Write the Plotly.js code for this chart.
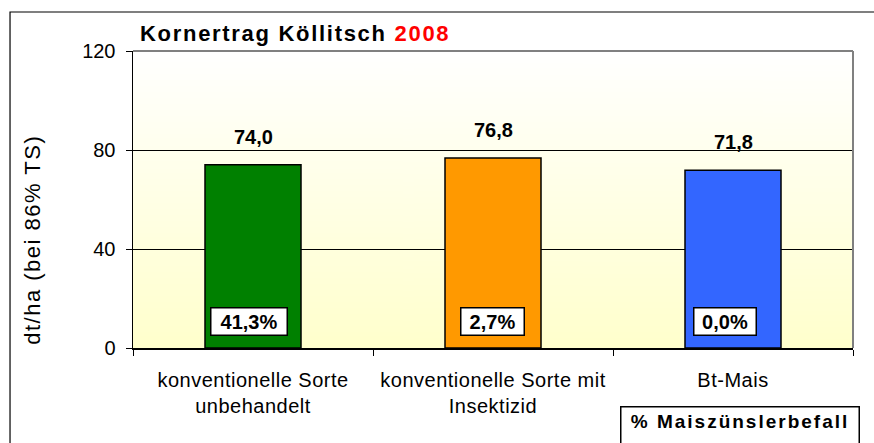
<!DOCTYPE html>
<html>
<head>
<meta charset="utf-8">
<script src="https://cdn.plot.ly/plotly-3.0.1.min.js"></script>
<style>
  html, body { margin: 0; padding: 0; background: #ffffff; }
  #chart { width: 874px; height: 443px; }
</style>
</head>
<body>
<div id="chart"></div>
<script>
// ---- data ----
const categories = ['konventionelle Sorte<br>unbehandelt', 'konventionelle Sorte mit<br>Insektizid', 'Bt-Mais'];
const yields = [74.0, 76.8, 71.8];          // dt/ha
const infestation = [41.3, 2.7, 0.0];       // % Maiszünslerbefall
const yTicks = [0, 40, 80, 120];

// ---- styles ----
const barColors = ['#008000', '#ff9900', '#3366ff'];
const boxWidths = [71, 58, 57];
const boxShifts = [-4, -1, -8];
const FONT = 'Arial, "Liberation Sans", sans-serif';

const fmt = v => v.toFixed(1).replace('.', ',');
const spaced = (t, s) => '<span style="letter-spacing:' + s + 'px">' + t + '</span>';

// vertical gradient for the plot background
const cv = document.createElement('canvas');
cv.width = 4; cv.height = 300;
const ctx = cv.getContext('2d');
const g = ctx.createLinearGradient(0, 0, 0, 300);
g.addColorStop(0, '#ffffff');
g.addColorStop(1, '#ffffcc');
ctx.fillStyle = g;
ctx.fillRect(0, 0, 4, 300);
const bgImg = cv.toDataURL('image/png');

const trace = {
  type: 'bar',
  x: categories,
  y: yields,
  width: 0.4,
  marker: { color: barColors, line: { color: '#000000', width: 1.5 } },
  hoverinfo: 'none'
};

const annotations = [];
categories.forEach((c, i) => {
  annotations.push({
    x: c, y: yields[i], xref: 'x', yref: 'y',
    text: fmt(yields[i]), showarrow: false,
    yanchor: 'bottom', yshift: 15,
    font: { family: FONT, size: 20, color: '#000000', weight: 'bold' }
  });
  annotations.push({
    x: c, y: 0, xref: 'x', yref: 'y',
    text: fmt(infestation[i]) + '%', showarrow: false,
    yanchor: 'bottom', yshift: 12, xshift: boxShifts[i],
    width: boxWidths[i],
    bgcolor: '#ffffff', bordercolor: '#000000', borderwidth: 1.5, borderpad: 2,
    font: { family: FONT, size: 20, color: '#000000', weight: 'bold' }
  });
});
annotations.push({
  xref: 'paper', yref: 'paper', x: 0.843, y: -0.195,
  xanchor: 'center', yanchor: 'top',
  text: spaced('% Maiszünslerbefall', 2),
  showarrow: false, width: 231, height: 40, valign: 'top',
  bgcolor: '#ffffff', bordercolor: '#000000', borderwidth: 1.5, borderpad: 3,
  font: { family: FONT, size: 19, color: '#000000', weight: 'bold' }
});
// y-axis title (placed lower than the axis centre, as in the original)
annotations.push({
  xref: 'paper', yref: 'paper', x: -0.139, y: 0.364,
  xanchor: 'center', yanchor: 'middle', textangle: -90,
  text: spaced('dt/ha (bei 86% TS)', 1.5), showarrow: false,
  font: { family: FONT, size: 22, color: '#000000' }
});

const layout = {
  width: 874, height: 443,
  margin: { l: 133, r: 21, t: 51, b: 95, pad: 0 },
  paper_bgcolor: '#ffffff',
  plot_bgcolor: 'rgba(0,0,0,0)',
  showlegend: false,
  separators: ',.',
  title: {
    text: spaced('Kornertrag Köllitsch <span style="color:#ff0000">2008</span>', 1.7),
    xref: 'container', yref: 'container',
    x: 140 / 874, xanchor: 'left',
    y: 1 - 33 / 443, yanchor: 'middle',
    font: { family: FONT, size: 22, color: '#000000', weight: 'bold' }
  },
  xaxis: {
    type: 'category',
    tickson: 'boundaries',
    ticks: 'outside', ticklen: 6, tickcolor: '#000000', tickwidth: 1,
    ticklabelstandoff: 13,
    tickvals: categories,
    ticktext: categories.map(c => spaced(c, 0.5)),
    showline: true, linecolor: '#000000', linewidth: 1.5,
    showgrid: false, zeroline: false,
    tickfont: { family: FONT, size: 20, color: '#000000' },
    fixedrange: true
  },
  yaxis: {
    range: [0, 120],
    tickvals: yTicks,
    ticks: 'outside', ticklen: 6, tickcolor: '#000000', tickwidth: 1,
    ticklabelstandoff: 6,
    showline: true, linecolor: '#000000', linewidth: 1.5,
    showgrid: true, gridcolor: '#000000', gridwidth: 1,
    zeroline: false,
    tickfont: { family: FONT, size: 20, color: '#000000' },
    fixedrange: true
  },
  images: [{
    source: bgImg, xref: 'paper', yref: 'paper',
    x: 0, y: 1, sizex: 1, sizey: 1, sizing: 'stretch',
    xanchor: 'left', yanchor: 'top', layer: 'below'
  }],
  shapes: [
    { type: 'rect', xref: 'paper', yref: 'paper',
      x0: -0.1708, x1: 1.2, y0: -0.5, y1: 1.1313,
      line: { color: '#000000', width: 1.2 }, fillcolor: 'rgba(0,0,0,0)', layer: 'below' },
    { type: 'line', xref: 'paper', yref: 'paper', x0: 0, x1: 1, y0: 1, y1: 1,
      line: { color: '#808080', width: 2 }, layer: 'above' },
    { type: 'line', xref: 'paper', yref: 'paper', x0: 1, x1: 1, y0: 0, y1: 1,
      line: { color: '#808080', width: 2 }, layer: 'above' }
  ],
  annotations: annotations
};

Plotly.newPlot('chart', [trace], layout, { displayModeBar: false, staticPlot: true });
</script>
</body>
</html>
